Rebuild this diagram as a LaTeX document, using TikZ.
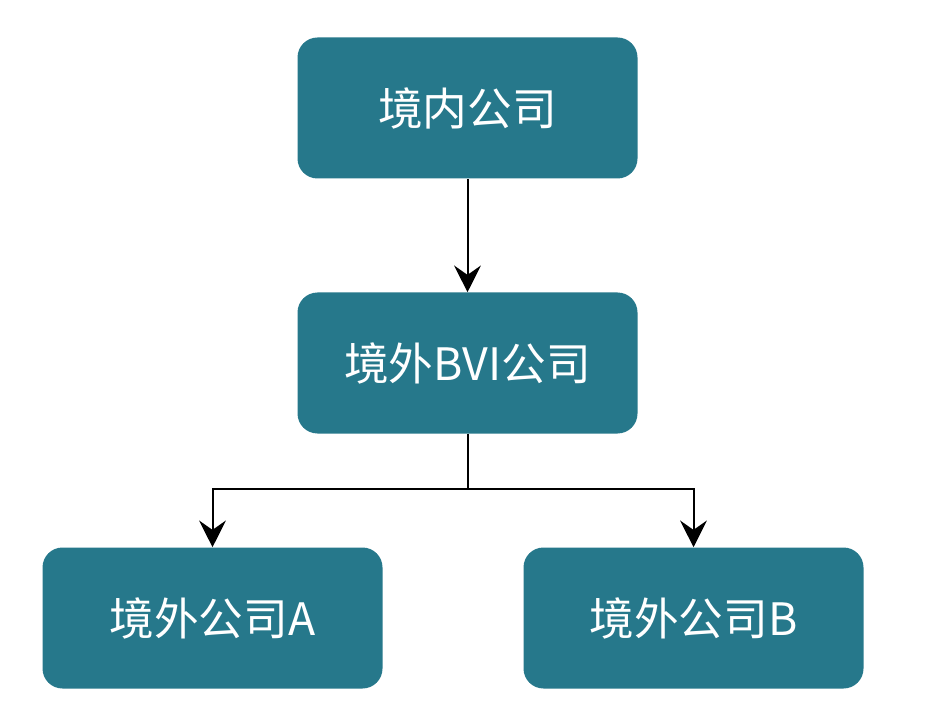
\documentclass[tikz,border=0pt]{standalone}
\usepackage{fontspec}
\setmainfont{Noto Sans CJK SC}
\usetikzlibrary{arrows.meta}

\definecolor{boxteal}{RGB}{38,120,139}

\tikzset{
    company/.style={rectangle, rounded corners=15pt, fill=boxteal,
        text=white, font=\fontsize{33.5}{40}\selectfont,
        minimum width=255pt, minimum height=105.75pt, inner sep=0pt},
    link/.style={line width=1.5pt, -{Stealth[length=20pt,width=20pt,inset=7pt]}}
}

\begin{document}
\begin{tikzpicture}[x=0.75pt, y=-0.75pt]

    % Frame
    \useasboundingbox (0,0) rectangle (939,720);

    %========================
    % Companies
    %========================
    \node[company] (domestic) at (467.5,108) {境内公司};
    \node[company] (bvi)      at (467.5,363) {境外BVI公司};
    \node[company] (offA)     at (212.5,618) {境外公司A};
    \node[company] (offB)     at (693.5,618) {境外公司B};

    % Branch point
    \coordinate (split) at (467.5,489);

    %========================
    % Links
    %========================
    \draw[link] (domestic) -- (bvi);
    \draw[line width=1.5pt] (bvi) -- (split);
    \draw[link] (split) -| (offA);
    \draw[link] (split) -| (offB);

\end{tikzpicture}
\end{document}
